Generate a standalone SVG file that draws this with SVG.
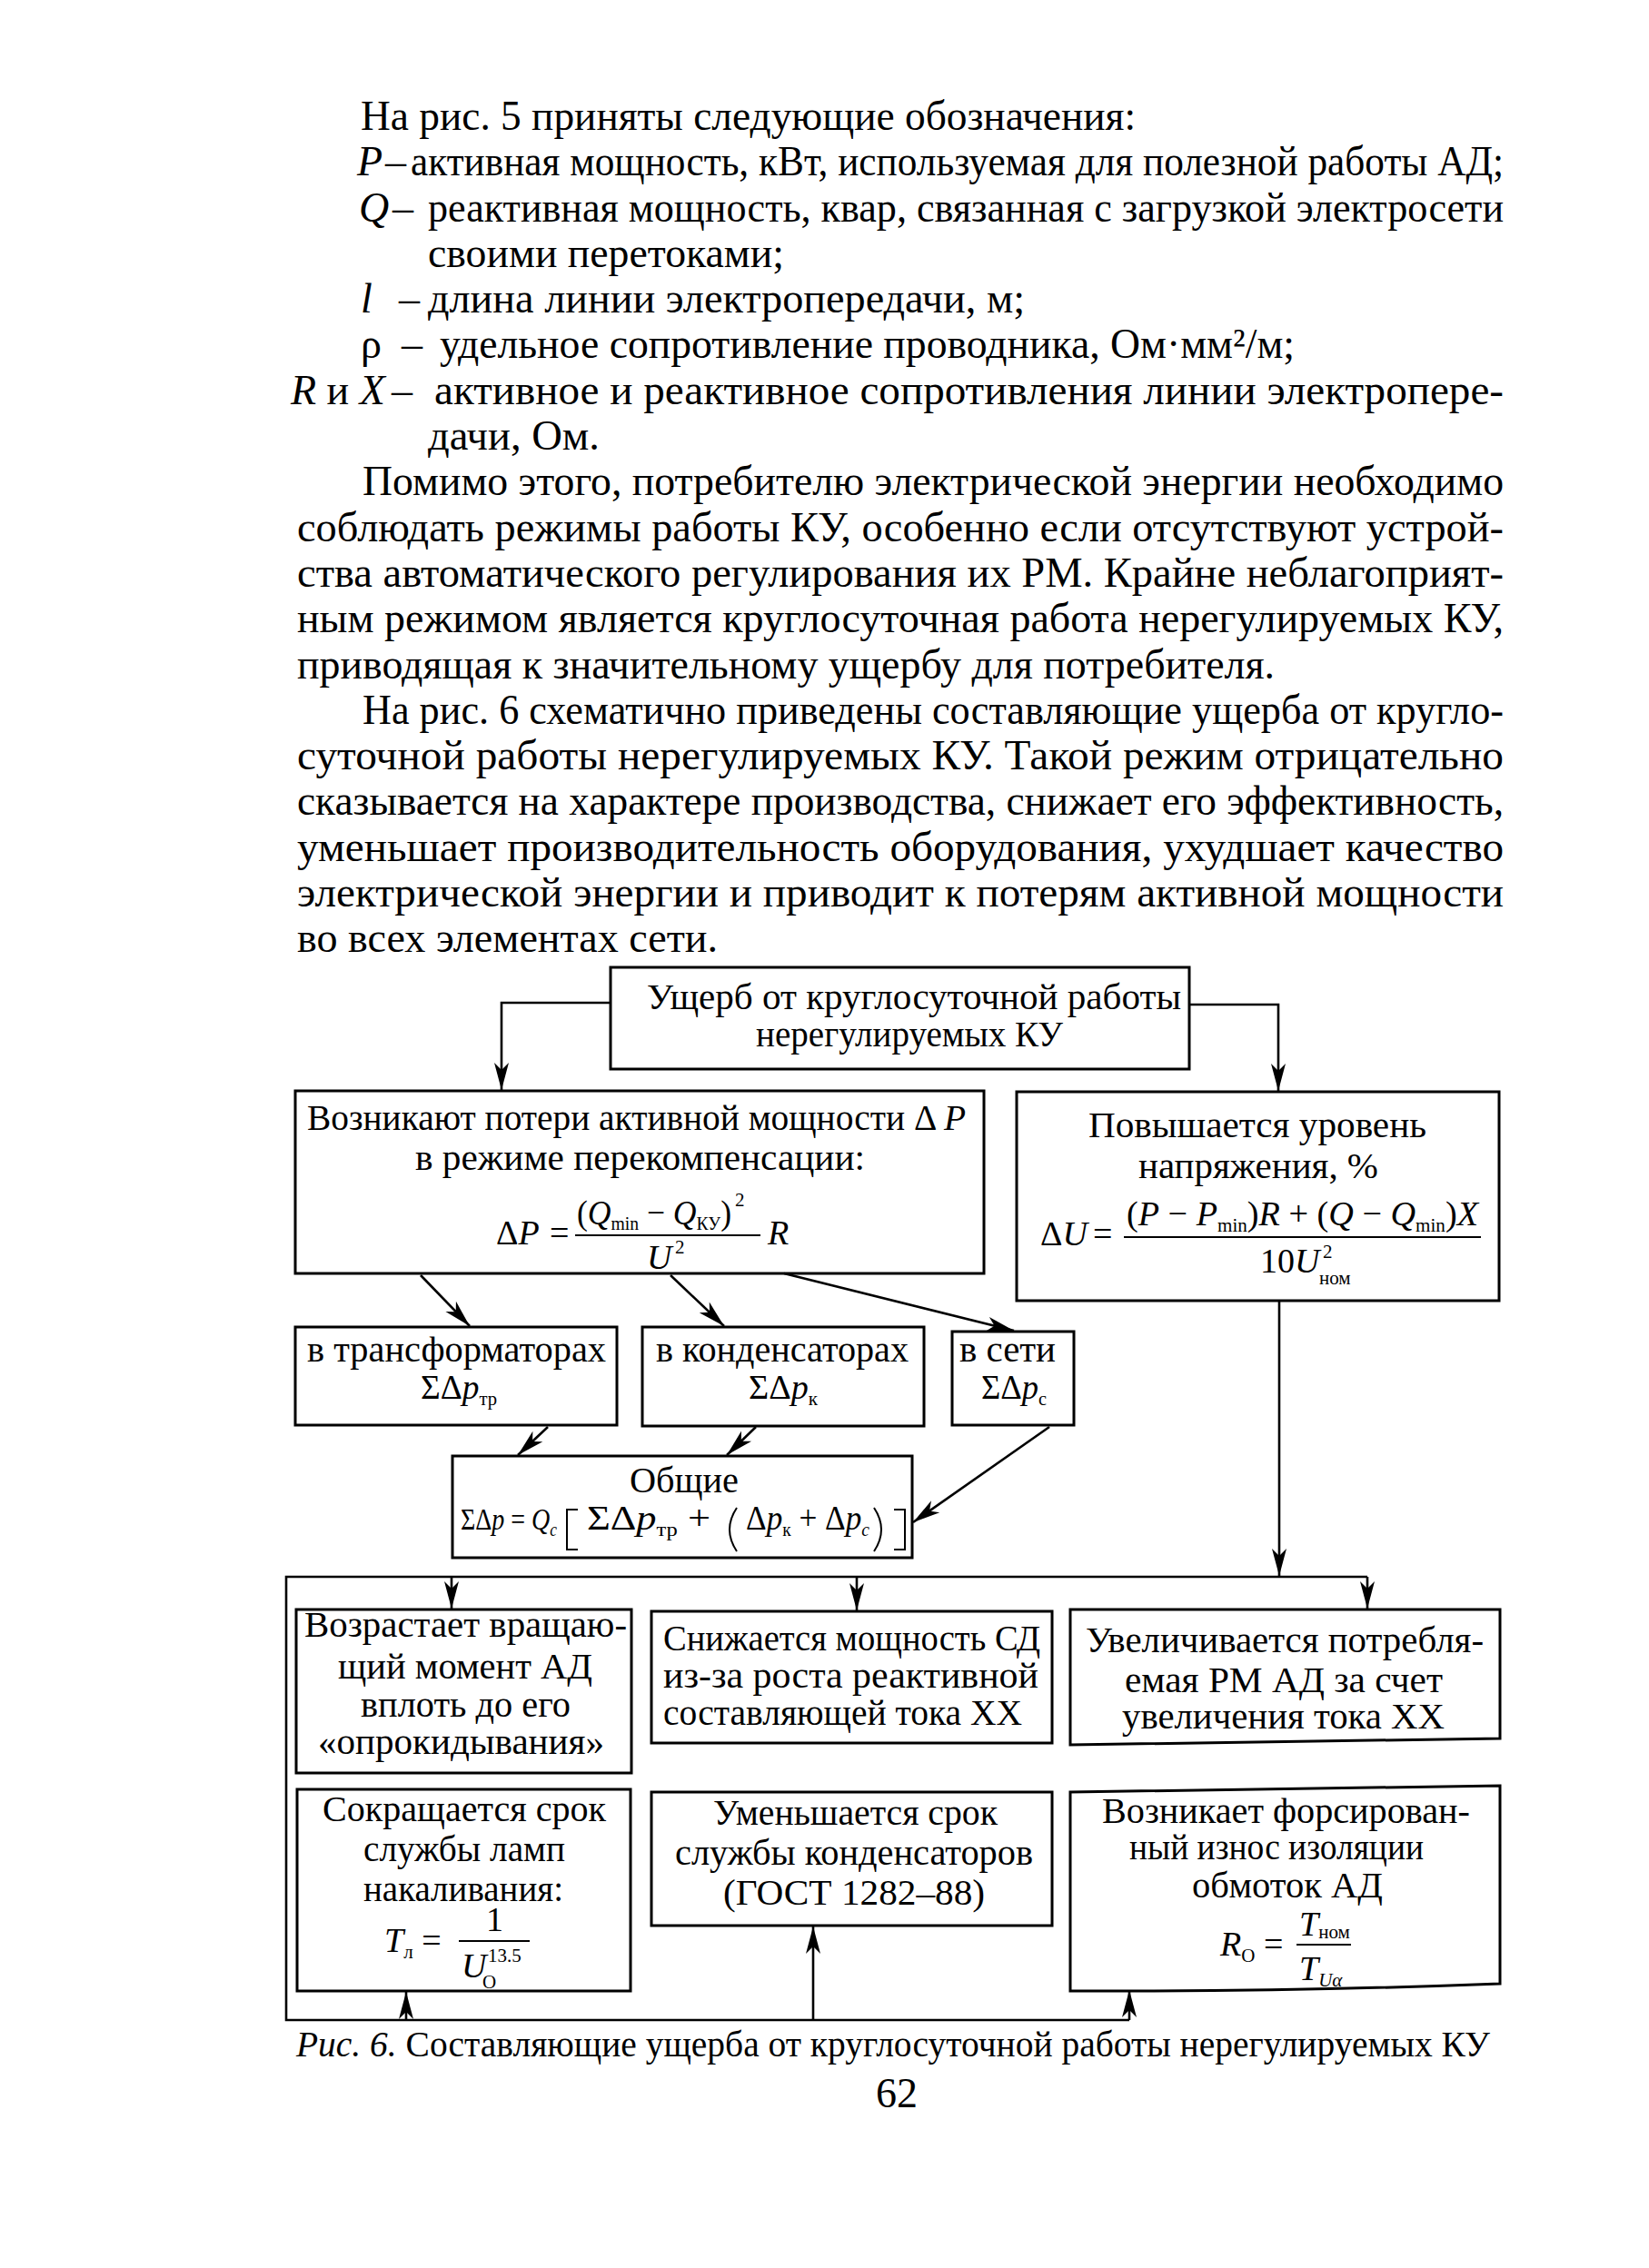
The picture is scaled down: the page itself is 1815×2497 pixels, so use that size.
<svg xmlns="http://www.w3.org/2000/svg" width="1815" height="2497" viewBox="0 0 1815 2497">
<style>
text{font-family:"Liberation Serif","Times New Roman",serif;fill:#000}
.b{font-size:46px}
.d{font-size:40px}
.f{font-size:38px}
.g{font-size:34px}
.s{font-size:24px}
.ss{font-size:21px}
.i{font-style:italic}
.box{fill:none;stroke:#000;stroke-width:3}
.ln{fill:none;stroke:#000;stroke-width:2.6}
.ar{fill:none;stroke:#000;stroke-width:2.6;marker-end:url(#ah)}
.bar{stroke:#000;stroke-width:2}
.br{fill:none;stroke:#000;stroke-width:2}
</style>
<defs>
<marker id="ah" viewBox="-32 -9 34 18" refX="0" refY="0" markerWidth="34" markerHeight="18" markerUnits="userSpaceOnUse" orient="auto">
<path d="M0,0 L-30,-8 L-22,0 L-30,8 Z" fill="#000"/>
</marker>
</defs>
<rect width="1815" height="2497" fill="#fff"/>

<g id="body-text" class="b">
<text x="397" y="143" textLength="853" lengthAdjust="spacingAndGlyphs">На рис. 5 приняты следующие обозначения:</text>
<text x="393" y="193" class="i">P</text><text x="424" y="193">–</text>
<text x="452" y="193" textLength="1203" lengthAdjust="spacingAndGlyphs">активная мощность, кВт, используемая для полезной работы АД;</text>
<text x="395" y="244" class="i">Q</text><text x="432" y="244">–</text>
<text x="471" y="244" textLength="1184" lengthAdjust="spacingAndGlyphs">реактивная мощность, квар, связанная с загрузкой электросети</text>
<text x="471" y="294" textLength="392" lengthAdjust="spacingAndGlyphs">своими перетоками;</text>
<text x="397" y="344" class="i">l</text><text x="439" y="344">–</text>
<text x="471" y="344" textLength="657" lengthAdjust="spacingAndGlyphs">длина линии электропередачи, м;</text>
<text x="397" y="394">ρ</text><text x="442" y="394">–</text>
<text x="484" y="394" textLength="941" lengthAdjust="spacingAndGlyphs">удельное сопротивление проводника, Ом·мм²/м;</text>
<text x="320" y="445"><tspan class="i">R</tspan> и <tspan class="i">X</tspan></text><text x="431" y="445">–</text>
<text x="478" y="445" textLength="1177" lengthAdjust="spacingAndGlyphs">активное и реактивное сопротивления линии электропере-</text>
<text x="471" y="495" textLength="189" lengthAdjust="spacingAndGlyphs">дачи, Ом.</text>
<text x="399" y="545" textLength="1256" lengthAdjust="spacingAndGlyphs">Помимо этого, потребителю электрической энергии необходимо</text>
<text x="327" y="596" textLength="1328" lengthAdjust="spacingAndGlyphs">соблюдать режимы работы КУ, особенно если отсутствуют устрой-</text>
<text x="327" y="646" textLength="1328" lengthAdjust="spacingAndGlyphs">ства автоматического регулирования их РМ. Крайне неблагоприят-</text>
<text x="327" y="696" textLength="1328" lengthAdjust="spacingAndGlyphs">ным режимом является круглосуточная работа нерегулируемых КУ,</text>
<text x="327" y="747" textLength="1076" lengthAdjust="spacingAndGlyphs">приводящая к значительному ущербу для потребителя.</text>
<text x="399" y="797" textLength="1256" lengthAdjust="spacingAndGlyphs">На рис. 6 схематично приведены составляющие ущерба от кругло-</text>
<text x="327" y="847" textLength="1328" lengthAdjust="spacingAndGlyphs">суточной работы нерегулируемых КУ. Такой режим отрицательно</text>
<text x="327" y="897" textLength="1328" lengthAdjust="spacingAndGlyphs">сказывается на характере производства, снижает его эффективность,</text>
<text x="327" y="948" textLength="1328" lengthAdjust="spacingAndGlyphs">уменьшает производительность оборудования, ухудшает качество</text>
<text x="327" y="998" textLength="1328" lengthAdjust="spacingAndGlyphs">электрической энергии и приводит к потерям активной мощности</text>
<text x="327" y="1048" textLength="463" lengthAdjust="spacingAndGlyphs">во всех элементах сети.</text>
</g>

<g id="connectors">
<path class="ar" d="M672,1104 H552 V1200"/>
<path class="ar" d="M1309,1106 H1407 V1201"/>
<path class="ar" d="M463,1404 L517,1460"/>
<path class="ar" d="M738,1404 L797,1460"/>
<path class="ar" d="M863,1402 L1116,1465"/>
<path class="ar" d="M603,1571 L570,1602"/>
<path class="ar" d="M832,1571 L800,1602"/>
<path class="ar" d="M1155,1571 L1005,1676"/>
<path class="ar" d="M1408,1432 V1735"/>
<path class="ln" d="M1505,1736 H315 V2224 H1243"/>
<path class="ar" d="M497,1736 V1771"/>
<path class="ar" d="M943,1736 V1773"/>
<path class="ar" d="M1505,1736 V1771"/>
<path class="ar" d="M447,2224 V2193"/>
<path class="ar" d="M895,2224 V2121"/>
<path class="ar" d="M1243,2224 V2191"/>
</g>

<g id="n-top">
<rect class="box" x="672" y="1065" width="637" height="112"/>
<text class="d" x="712" y="1111" textLength="588" lengthAdjust="spacingAndGlyphs">Ущерб от круглосуточной работы</text>
<text class="d" x="832" y="1152" textLength="338" lengthAdjust="spacingAndGlyphs">нерегулируемых КУ</text>
</g>

<g id="n-losses">
<rect class="box" x="325" y="1201" width="758" height="201"/>
<text class="d" x="338" y="1244" textLength="725" lengthAdjust="spacingAndGlyphs">Возникают потери активной мощности Δ <tspan class="i">P</tspan></text>
<text class="d" x="457" y="1288" textLength="495" lengthAdjust="spacingAndGlyphs">в режиме перекомпенсации:</text>
<text class="f" x="546" y="1370">Δ<tspan class="i">P</tspan></text>
<text class="f" x="605" y="1370">=</text>
<line class="bar" x1="633" y1="1360" x2="837" y2="1360"/>
<text class="f" x="635" y="1348" textLength="170" lengthAdjust="spacingAndGlyphs">(<tspan class="i">Q</tspan><tspan class="ss" dy="6">min</tspan><tspan dy="-6"> − </tspan><tspan class="i">Q</tspan><tspan class="ss" dy="6">КУ</tspan><tspan dy="-6">)</tspan></text>
<text class="ss" x="809" y="1328">2</text>
<text class="f i" x="845" y="1370">R</text>
<text class="f i" x="712" y="1397">U</text>
<text class="ss" x="743" y="1380">2</text>
</g>

<g id="n-voltage">
<rect class="box" x="1119" y="1202" width="531" height="230"/>
<text class="d" x="1198" y="1252" textLength="372" lengthAdjust="spacingAndGlyphs">Повышается уровень</text>
<text class="d" x="1253" y="1297" textLength="264" lengthAdjust="spacingAndGlyphs">напряжения, %</text>
<text class="f" x="1145" y="1371">Δ<tspan class="i">U</tspan></text>
<text class="f" x="1203" y="1371">=</text>
<line class="bar" x1="1237" y1="1362" x2="1630" y2="1362"/>
<text class="f" x="1240" y="1349" textLength="387" lengthAdjust="spacingAndGlyphs">(<tspan class="i">P</tspan> − <tspan class="i">P</tspan><tspan class="ss" dy="7">min</tspan><tspan dy="-7">)</tspan><tspan class="i">R</tspan> + (<tspan class="i">Q</tspan> − <tspan class="i">Q</tspan><tspan class="ss" dy="7">min</tspan><tspan dy="-7">)</tspan><tspan class="i">X</tspan></text>
<text class="f" x="1387" y="1401">10<tspan class="i">U</tspan></text>
<text class="ss" x="1456" y="1385">2</text>
<text class="ss" x="1452" y="1414">ном</text>
</g>

<g id="n-trans">
<rect class="box" x="325" y="1461" width="354" height="108"/>
<text class="d" x="338" y="1499" textLength="329" lengthAdjust="spacingAndGlyphs">в трансформаторах</text>
<text class="f" x="463" y="1540" textLength="84" lengthAdjust="spacingAndGlyphs">ΣΔ<tspan class="i">p</tspan><tspan class="ss" dy="7">тр</tspan></text>
</g>

<g id="n-cond">
<rect class="box" x="707" y="1461" width="310" height="109"/>
<text class="d" x="722" y="1499" textLength="278" lengthAdjust="spacingAndGlyphs">в конденсаторах</text>
<text class="f" x="824" y="1540" textLength="76" lengthAdjust="spacingAndGlyphs">ΣΔ<tspan class="i">p</tspan><tspan class="ss" dy="7">к</tspan></text>
</g>

<g id="n-net">
<rect class="box" x="1048" y="1466" width="134" height="103"/>
<text class="d" x="1056" y="1499" textLength="106" lengthAdjust="spacingAndGlyphs">в сети</text>
<text class="f" x="1080" y="1540" textLength="72" lengthAdjust="spacingAndGlyphs">ΣΔ<tspan class="i">p</tspan><tspan class="ss" dy="7">с</tspan></text>
</g>

<g id="n-total">
<rect class="box" x="498" y="1603" width="506" height="112"/>
<text class="d" x="693" y="1643" textLength="120" lengthAdjust="spacingAndGlyphs">Общие</text>
<text class="g" x="507" y="1684" textLength="106" lengthAdjust="spacingAndGlyphs">ΣΔ<tspan class="i">p</tspan> = <tspan class="i">Q</tspan><tspan class="ss i" dy="7">c</tspan></text>
<path class="br" d="M636,1662 H624 V1706 H636"/>
<text class="f" x="646" y="1684" textLength="136" lengthAdjust="spacingAndGlyphs">ΣΔ<tspan class="i">p</tspan><tspan class="ss" dy="7">тр</tspan><tspan dy="-7"> +</tspan></text>
<path class="br" d="M811,1660 Q795,1684 811,1708"/>
<text class="f" x="821" y="1684" textLength="136" lengthAdjust="spacingAndGlyphs">Δ<tspan class="i">p</tspan><tspan class="ss" dy="7">к</tspan><tspan dy="-7"> + Δ</tspan><tspan class="i">p</tspan><tspan class="ss i" dy="7">c</tspan></text>
<path class="br" d="M962,1660 Q978,1684 962,1708"/>
<path class="br" d="M984,1662 H996 V1706 H984"/>
</g>

<g id="n-torque">
<rect class="box" x="326" y="1772" width="369" height="180"/>
<text class="d" x="335" y="1802" textLength="355" lengthAdjust="spacingAndGlyphs">Возрастает вращаю-</text>
<text class="d" x="372" y="1848" textLength="280" lengthAdjust="spacingAndGlyphs">щий момент АД</text>
<text class="d" x="397" y="1890" textLength="231" lengthAdjust="spacingAndGlyphs">вплоть до его</text>
<text class="d" x="350" y="1931" textLength="315" lengthAdjust="spacingAndGlyphs">«опрокидывания»</text>
</g>

<g id="n-sd">
<rect class="box" x="717" y="1774" width="441" height="145"/>
<text class="d" x="730" y="1817" textLength="415" lengthAdjust="spacingAndGlyphs">Снижается мощность СД</text>
<text class="d" x="730" y="1858" textLength="413" lengthAdjust="spacingAndGlyphs">из-за  роста  реактивной</text>
<text class="d" x="730" y="1899" textLength="395" lengthAdjust="spacingAndGlyphs">составляющей тока ХХ</text>
</g>

<g id="n-rm">
<path class="box" d="M1178,1772 H1651 V1914 L1178,1921 Z"/>
<text class="d" x="1195" y="1819" textLength="438" lengthAdjust="spacingAndGlyphs">Увеличивается потребля-</text>
<text class="d" x="1238" y="1863" textLength="350" lengthAdjust="spacingAndGlyphs">емая РМ АД за счет</text>
<text class="d" x="1235" y="1903" textLength="355" lengthAdjust="spacingAndGlyphs">увеличения тока ХХ</text>
</g>

<g id="n-lamps">
<rect class="box" x="327" y="1970" width="367" height="222"/>
<text class="d" x="355" y="2005" textLength="312" lengthAdjust="spacingAndGlyphs">Сокращается срок</text>
<text class="d" x="400" y="2049" textLength="222" lengthAdjust="spacingAndGlyphs">службы ламп</text>
<text class="d" x="400" y="2093" textLength="220" lengthAdjust="spacingAndGlyphs">накаливания:</text>
<text class="f" x="423" y="2149"><tspan class="i">T</tspan><tspan class="ss" dy="7">л</tspan><tspan dy="-7"> =</tspan></text>
<line class="bar" x1="505" y1="2137" x2="583" y2="2137"/>
<text class="f" x="535" y="2126">1</text>
<text class="f i" x="508" y="2177">U</text>
<text class="ss" x="537" y="2160">13.5</text>
<text class="ss" x="531" y="2189">O</text>
</g>

<g id="n-caps">
<rect class="box" x="717" y="1973" width="441" height="147"/>
<text class="d" x="785" y="2009" textLength="313" lengthAdjust="spacingAndGlyphs">Уменьшается срок</text>
<text class="d" x="743" y="2053" textLength="394" lengthAdjust="spacingAndGlyphs">службы конденсаторов</text>
<text class="d" x="796" y="2097" textLength="288" lengthAdjust="spacingAndGlyphs">(ГОСТ 1282–88)</text>
</g>

<g id="n-insulation">
<path class="box" d="M1178,1973 L1651,1966 V2184 Q1420,2193 1178,2192 Z"/>
<text class="d" x="1213" y="2007" textLength="405" lengthAdjust="spacingAndGlyphs">Возникает форсирован-</text>
<text class="d" x="1243" y="2047" textLength="324" lengthAdjust="spacingAndGlyphs">ный износ изоляции</text>
<text class="d" x="1312" y="2089" textLength="210" lengthAdjust="spacingAndGlyphs">обмоток АД</text>
<text class="f" x="1343" y="2153"><tspan class="i">R</tspan><tspan class="ss" dy="7">O</tspan><tspan dy="-7"> =</tspan></text>
<line class="bar" x1="1427" y1="2141" x2="1487" y2="2141"/>
<text class="f" x="1430" y="2131"><tspan class="i">T</tspan><tspan class="ss" dy="3">ном</tspan></text>
<text class="f" x="1430" y="2180"><tspan class="i">T</tspan><tspan class="ss i" dy="7">Uα</tspan></text>
</g>

<g id="caption">
<text class="d" x="326" y="2264" textLength="1314" lengthAdjust="spacingAndGlyphs"><tspan class="i">Рис. 6.</tspan> Составляющие ущерба от круглосуточной работы нерегулируемых КУ</text>
<text class="b" x="987" y="2320" text-anchor="middle">62</text>
</g>
</svg>
